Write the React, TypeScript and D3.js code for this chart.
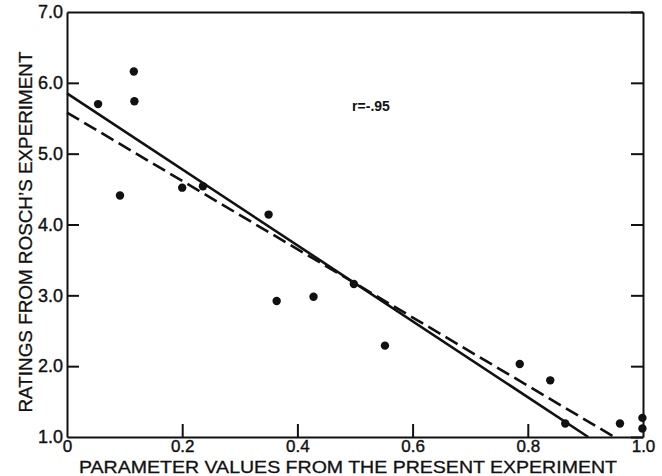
import { useEffect, useRef } from 'react';
import * as d3 from 'd3';

// values
const paramValues = [0.054, 0.116, 0.117, 0.092, 0.2, 0.236, 0.35, 0.364, 0.428, 0.498, 0.552, 0.786, 0.839, 0.865, 0.96, 0.999, 0.999];
const roschRatings = [5.7, 6.16, 5.74, 4.41, 4.52, 4.54, 4.14, 2.92, 2.98, 3.16, 2.29, 2.03, 1.8, 1.19, 1.19, 1.27, 1.12];

// two fitted lines: solid and dashed
const fitNames = ['solid', 'dashed'];
const fitIntercepts = [5.85, 5.58];
const fitSlopes = [-5.36, -4.82];

const xTicks = [0, 0.2, 0.4, 0.6, 0.8, 1.0];
const xTickLabels = ['0', '0.2', '0.4', '0.6', '0.8', '1.0'];
const yTicks = [1, 2, 3, 4, 5, 6, 7];
const yTickLabels = ['1.0', '2.0', '3.0', '4.0', '5.0', '6.0', '7.0'];

const xTitle = 'PARAMETER VALUES FROM THE PRESENT EXPERIMENT';
const yTitle = 'RATINGS FROM ROSCH\u2019S EXPERIMENT';
const rLabel = 'r=-.95';

const W = 662;
const H = 476;
const FONT = '"Liberation Sans", Arial, sans-serif';

const App = () => {
  const svgRef = useRef<SVGSVGElement>(null);

  useEffect(() => {
    if (!svgRef.current) return;
    const svg = d3.select(svgRef.current);
    svg.selectAll('*').remove();

    const x = d3.scaleLinear().domain([0, 1]).range([67, 643]);
    const y = d3.scaleLinear().domain([1, 7]).range([437, 12]);

    const g = svg.append('g');

    // left axis with labels, ticks pointing inward
    const left = g.append('g')
      .attr('transform', `translate(${x(0)},0)`)
      .call(d3.axisLeft(y).tickValues(yTicks).tickSizeInner(-12).tickSizeOuter(0).tickPadding(4)
        .tickFormat((d, i) => yTickLabels[i]));
    left.selectAll('text')
      .style('font-size', '18px').style('font-family', FONT)
      .attr('fill', '#111').attr('stroke', '#111').attr('stroke-width', 0.4);

    const bottom = g.append('g')
      .attr('transform', `translate(0,${y(1)})`)
      .call(d3.axisBottom(x).tickValues(xTicks).tickSizeInner(-13).tickSizeOuter(0).tickPadding(3)
        .tickFormat((d, i) => xTickLabels[i]));
    bottom.selectAll('text')
      .style('font-size', '17px').style('font-family', FONT)
      .attr('fill', '#111').attr('stroke', '#111').attr('stroke-width', 0.4);

    g.append('g')
      .attr('transform', `translate(${x(1)},0)`)
      .call(d3.axisRight(y).tickValues(yTicks).tickSizeInner(-12).tickSizeOuter(0).tickFormat(() => ''));

    g.append('g')
      .attr('transform', `translate(0,${y(7)})`)
      .call(d3.axisTop(x).tickValues(xTicks).tickSizeInner(0).tickSizeOuter(0).tickFormat(() => ''));

    g.selectAll('.domain').attr('stroke', '#111').attr('stroke-width', 2);
    g.selectAll('.tick line').attr('stroke', '#111').attr('stroke-width', 2);
    left.selectAll('.tick').filter((d) => d === 1 || d === 7).select('line').remove();
    bottom.selectAll('.tick').filter((d) => d === 0 || d === 1).select('line').remove();

    // fitted lines, stopped where they reach 1.0
    fitNames.forEach((name, i) => {
      const x1 = (1 - fitIntercepts[i]) / fitSlopes[i];
      const pts: [number, number][] = [[0, fitIntercepts[i]], [x1, 1]];
      const line = d3.line<[number, number]>().x(d => x(d[0])).y(d => y(d[1]));
      g.append('path')
        .attr('d', line(pts))
        .attr('fill', 'none')
        .attr('stroke', '#111')
        .attr('stroke-width', 2.6)
        .attr('stroke-dasharray', name === 'dashed' ? '14,6' : null);
    });

    g.selectAll('circle.pt')
      .data(paramValues.map((v, i) => [v, roschRatings[i]]))
      .enter()
      .append('circle')
      .attr('class', 'pt')
      .attr('cx', d => x(d[0]))
      .attr('cy', d => y(d[1]))
      .attr('r', 4.2)
      .attr('fill', '#111');

    g.append('text')
      .attr('x', x(0.495))
      .attr('y', y(5.6))
      .style('font-family', FONT)
      .style('font-size', '14px')
      .style('font-weight', 'bold')
      .attr('fill', '#111')
      .text(rLabel);

    g.append('text')
      .attr('x', 348)
      .attr('y', 473)
      .attr('text-anchor', 'middle')
      .attr('textLength', 538)
      .attr('lengthAdjust', 'spacingAndGlyphs')
      .style('font-family', FONT)
      .style('font-size', '17px')
      .attr('fill', '#111')
      .attr('stroke', '#111')
      .attr('stroke-width', 0.3)
      .text(xTitle);

    g.append('text')
      .attr('transform', `translate(32,232) rotate(-90)`)
      .attr('text-anchor', 'middle')
      .attr('textLength', 361)
      .attr('lengthAdjust', 'spacingAndGlyphs')
      .style('font-family', FONT)
      .style('font-size', '19px')
      .attr('fill', '#111')
      .attr('stroke', '#111')
      .attr('stroke-width', 0.3)
      .text(yTitle);
  }, []);

  return (
    <svg ref={svgRef} width={W} height={H}
      style={{ position: 'absolute', top: 0, left: 0, background: '#fff' }} />
  );
};

export default App;
